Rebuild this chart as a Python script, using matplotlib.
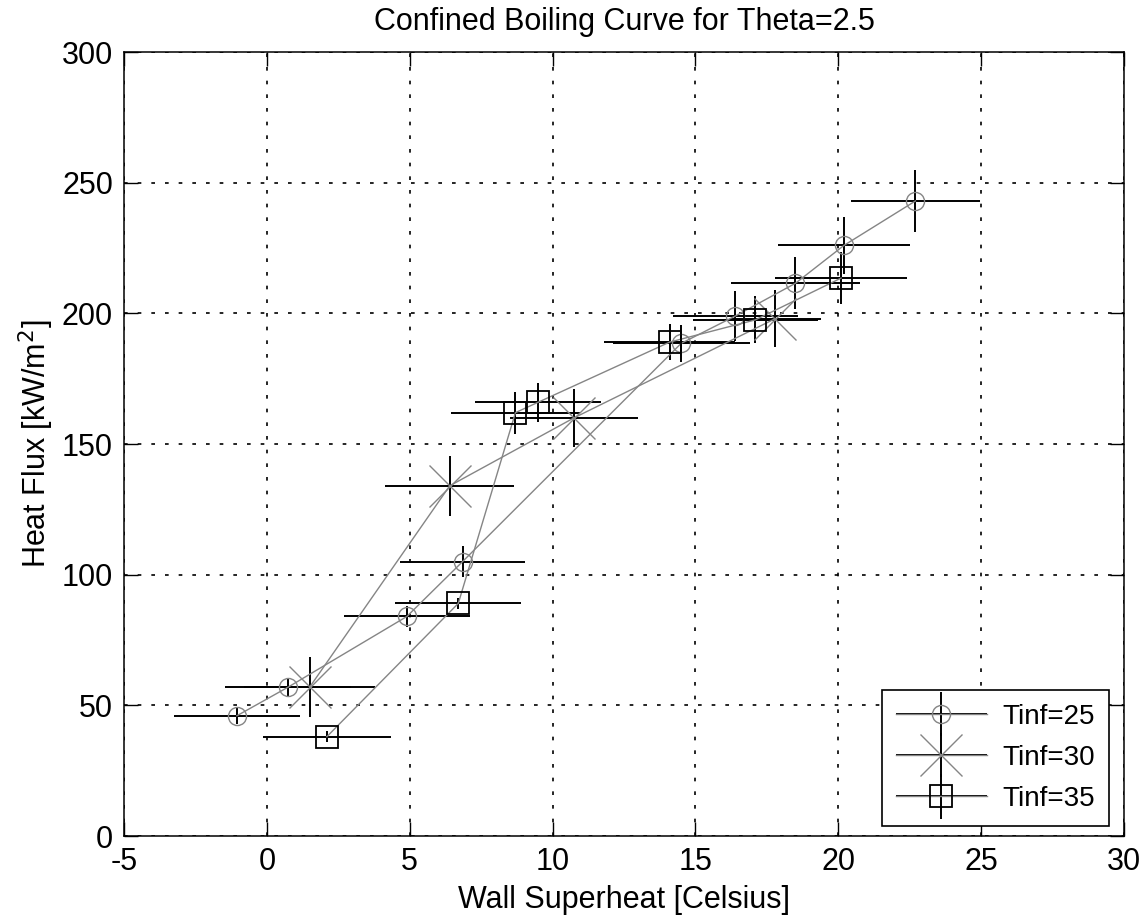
import matplotlib
matplotlib.use("Agg")
import matplotlib.pyplot as plt
from matplotlib.legend_handler import HandlerErrorbar

plt.rcParams['font.family'] = ['Liberation Sans', 'DejaVu Sans']
plt.rcParams['axes.unicode_minus'] = False

# ---- data ----
x25 = [-1.05, 0.75, 4.9, 6.85, 14.5, 16.4, 18.5, 20.2, 22.7]
y25 = [46, 57, 84, 105, 188.5, 199, 211.5, 226, 243]
xerr25 = [2.2, 2.2, 2.2, 2.2, 2.4, 2.2, 2.25, 2.3, 2.25]
yerr25 = [3, 3.5, 4, 6, 7, 9.5, 10, 11, 12]

x30 = [1.5, 6.4, 10.75, 17.8]
y30 = [57, 134, 160, 198]
xerr30 = [2.3, 2.25, 2.25, 1.6]
yerr30 = [11.5, 11.5, 11, 11]

x35 = [2.1, 6.7, 8.7, 9.5, 14.1, 17.1, 20.1]
y35 = [38, 89, 162, 166, 189, 197.5, 213.5]
xerr35 = [2.25, 2.2, 2.25, 2.2, 2.3, 2.2, 2.3]
yerr35 = [2, 2, 8, 7.5, 7, 9, 10]

labels = ['Tinf=25', 'Tinf=30', 'Tinf=35']
title = 'Confined Boiling Curve for Theta=2.5'
xlabel = 'Wall Superheat [Celsius]'
ylabel = 'Heat Flux [kW/m$^2$]'
xticks = [-5, 0, 5, 10, 15, 20, 25, 30]
yticks = [0, 50, 100, 150, 200, 250, 300]

fig = plt.figure(figsize=(11.47, 9.19), dpi=100)
ax = fig.add_axes([124/1147, 83/919, 1000/1147, 784/919])

gray = '#858585'
common = dict(ecolor='black', elinewidth=1.4, capsize=0, color=gray, linewidth=1.0)

h25 = ax.errorbar(x25, y25, xerr=xerr25, yerr=yerr25, marker='o', markersize=13,
                  markerfacecolor='none', markeredgecolor=gray, markeredgewidth=1.0,
                  label=labels[0], **common)
h30 = ax.errorbar(x30, y30, xerr=xerr30, yerr=yerr30, marker='x', markersize=30,
                  markeredgecolor=gray, markeredgewidth=1.0,
                  label=labels[1], **common)
h35 = ax.errorbar(x35, y35, xerr=xerr35, yerr=yerr35, marker='s', markersize=16,
                  markerfacecolor='none', markeredgecolor='black', markeredgewidth=1.3,
                  label=labels[2], **common)

ax.set_xlim(-5, 30)
ax.set_ylim(0, 300)
ax.set_xticks(xticks)
ax.set_yticks(yticks)
ax.tick_params(direction='in', length=10, width=1, top=True, right=True,
               labelsize=22, pad=8)
ax.grid(True, color='black', linewidth=1.2, linestyle=(0, (2.2, 6)))
for s in ax.spines.values():
    s.set_linewidth(1.1)

ax.set_title(title, fontsize=22, pad=16)
ax.set_xlabel(xlabel, fontsize=22, labelpad=6)
ax.set_ylabel(ylabel, fontsize=22, labelpad=4)

leg = ax.legend(handles=[h25, h30, h35], loc='lower right',
                bbox_to_anchor=(0.985, 0.0128), fontsize=20, frameon=True,
                fancybox=False, edgecolor='black', framealpha=1,
                handlelength=3.3, labelspacing=0.55, borderpad=0.5,
                handletextpad=0.55, borderaxespad=0,
                handler_map={type(h25): HandlerErrorbar(xerr_size=1.65, yerr_size=0.8)})
leg.get_frame().set_linewidth(1.2)

fig.savefig('out.png', dpi=100)
